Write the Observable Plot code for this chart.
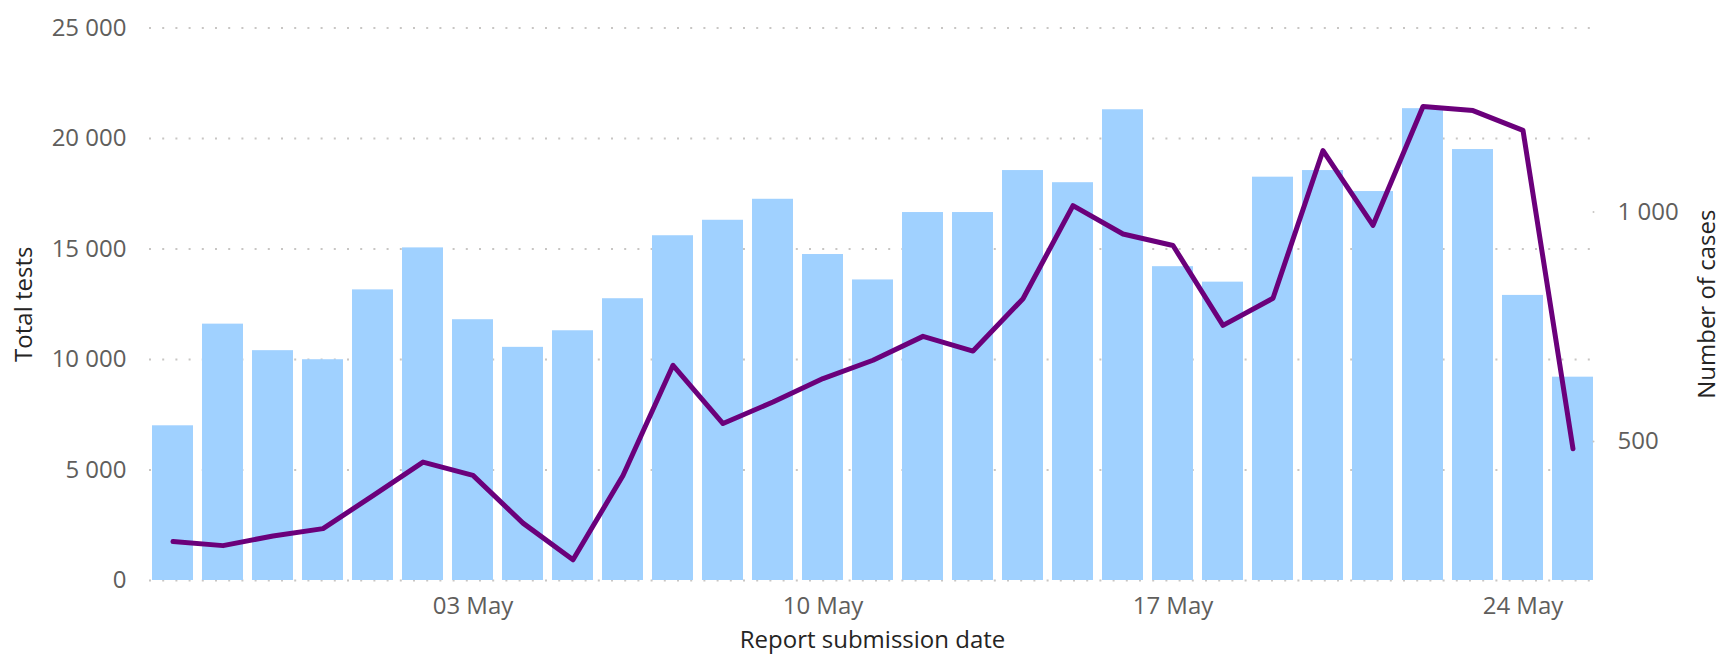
<!DOCTYPE html>
<html><head><meta charset="utf-8">
<script src="https://cdn.jsdelivr.net/npm/d3@7"></script>
<script src="https://cdn.jsdelivr.net/npm/@observablehq/plot@0.6"></script>
<style>
html,body{margin:0;padding:0;background:#fff;}
</style></head><body><div id="chart"></div>
<script>
const dates = ["2020-04-27","2020-04-28","2020-04-29","2020-04-30","2020-05-01","2020-05-02","2020-05-03",
  "2020-05-04","2020-05-05","2020-05-06","2020-05-07","2020-05-08","2020-05-09","2020-05-10",
  "2020-05-11","2020-05-12","2020-05-13","2020-05-14","2020-05-15","2020-05-16","2020-05-17",
  "2020-05-18","2020-05-19","2020-05-20","2020-05-21","2020-05-22","2020-05-23","2020-05-24","2020-05-25"];
const tests = [7000, 11600, 10400, 9990, 13150, 15050, 11800, 10550, 11300, 12750, 15600, 16300, 17250, 14750,
  13600, 16650, 16650, 18550, 18000, 21300, 14200, 13500, 18250, 18550, 17600, 21350, 19500, 12900, 9200];
const cases = [282, 273, 294, 310, 382, 455, 426, 322, 242, 426, 666, 539, 586, 637,
  677, 729, 697, 811, 1014, 952, 927, 753, 812, 1134, 971, 1230, 1221, 1178, 484];
const xTickDates = ["2020-05-03","2020-05-10","2020-05-17","2020-05-24"];
const leftTicks = [0, 5000, 10000, 15000, 20000, 25000];
const rightTicks = [500, 1000];
const leftDomain = [0, 25000];
const rightDomain = [197, 1401];

const fmt = d3.formatLocale({decimal: ".", thousands: " ", grouping: [3], currency: ["", ""]}).format(",d");
const toLeft = c => (c - rightDomain[0]) / (rightDomain[1] - rightDomain[0]) * (leftDomain[1] - leftDomain[0]) + leftDomain[0];
const fromLeft = t => rightDomain[0] + (t - leftDomain[0]) / (leftDomain[1] - leftDomain[0]) * (rightDomain[1] - rightDomain[0]);
const dateFmt = d3.utcFormat("%d %b");

const data = dates.map((d, i) => ({date: d, tests: tests[i], cases: cases[i]}));

const FONT = "'Open Sans', 'Noto Sans', sans-serif";
const chart = Plot.plot({
  width: 1728, height: 654,
  marginLeft: 149, marginRight: 133, marginTop: 27.5, marginBottom: 74,
  style: {fontFamily: FONT, fontSize: "24px", color: "#605E5C", background: "#fff"},
  x: {type: "band", domain: dates, paddingInner: 0.18, paddingOuter: 0},
  y: {domain: leftDomain},
  marks: [
    Plot.ruleY(leftTicks, {stroke: "#c8c6c4", strokeWidth: 2, strokeDasharray: "2,11.2"}),
    Plot.barY(data, {x: "date", y: "tests", fill: "#A0D1FF"}),
    Plot.line(data, {x: "date", y: d => toLeft(d.cases), stroke: "#6B007B", strokeWidth: 5,
      strokeLinejoin: "round", strokeLinecap: "round"}),
    Plot.axisX({ticks: xTickDates, tickSize: 0, tickPadding: 16, tickFormat: d => dateFmt(new Date(d)),
      label: null, fontSize: 24, fill: "#605E5C"}),
    Plot.axisY({ticks: leftTicks, tickSize: 0, tickPadding: 23, tickFormat: fmt, label: null,
      fontSize: 24, fill: "#605E5C"}),
    Plot.axisY({anchor: "right", ticks: rightTicks.map(toLeft), tickSize: 0, tickPadding: 22,
      tickFormat: t => fmt(Math.round(fromLeft(t))), label: null, fontSize: 24, fill: "#605E5C"}),
    Plot.dot(rightTicks.map(toLeft), {y: d => d, frameAnchor: "right", dx: -2, r: 1, fill: "#c8c6c4", stroke: null}),
    Plot.text(["Total tests"], {frameAnchor: "left", dx: -125, rotate: -90, fontSize: 24,
      fill: "#252423", textAnchor: "middle"}),
    Plot.text(["Number of cases"], {frameAnchor: "right", dx: 112, rotate: -90, fontSize: 24,
      fill: "#252423", textAnchor: "middle"}),
    Plot.text(["Report submission date"], {frameAnchor: "bottom", dy: 67, fontSize: 24,
      fill: "#252423", textAnchor: "middle"})
  ]
});
document.getElementById("chart").appendChild(chart);
</script>
</body></html>
